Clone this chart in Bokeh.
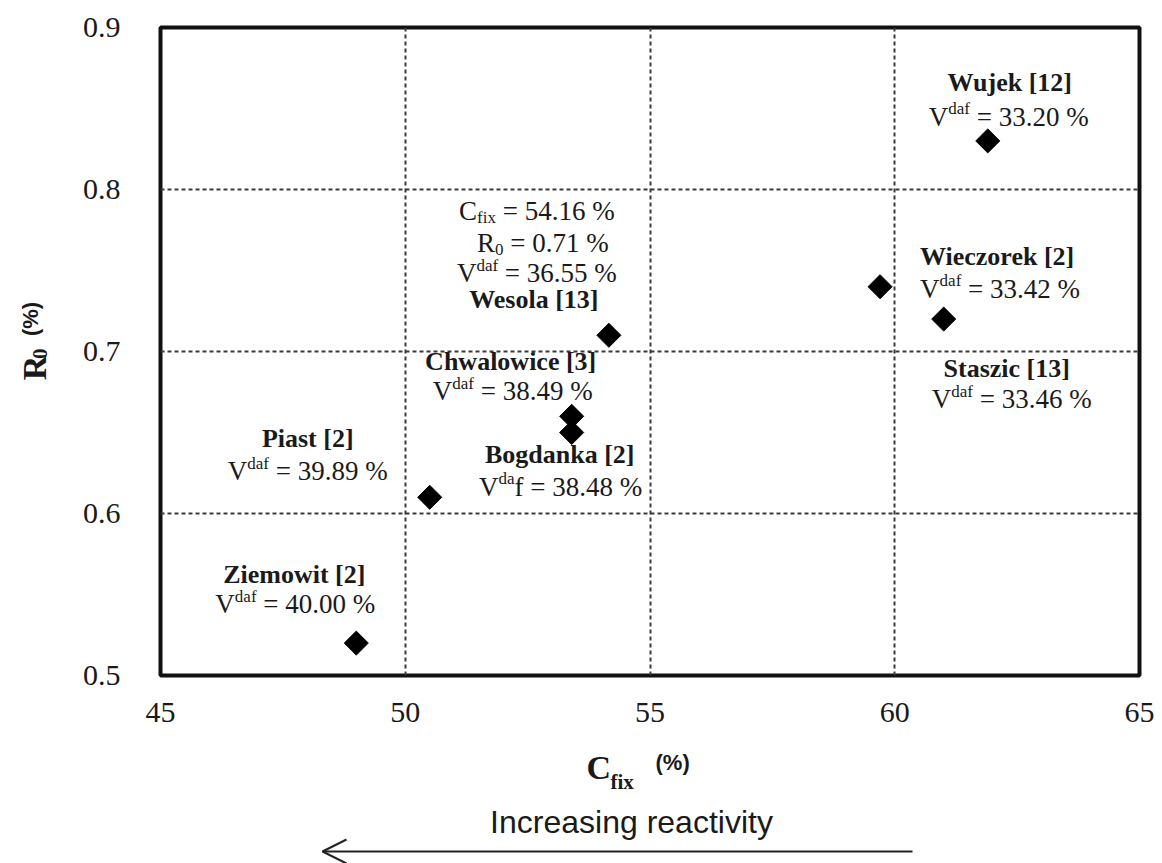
import numpy as np
from bokeh.plotting import figure
from bokeh.models import Label, Arrow, OpenHead, FixedTicker, Range1d
from bokeh.layouts import column, row
from bokeh.embed import file_html
from bokeh.resources import INLINE

# ---------------- data ----------------
mines = ["Ziemowit", "Piast", "Bogdanka", "Chwalowice", "Wesola", "Wieczorek", "Staszic", "Wujek"]
refs = ["2", "2", "2", "3", "13", "2", "13", "12"]
cfix = [49.0, 50.5, 53.4, 53.4, 54.16, 59.7, 61.0, 61.9]
r0 = [0.52, 0.61, 0.65, 0.66, 0.71, 0.74, 0.72, 0.83]
vdaf = ["40.00", "39.89", "38.48", "38.49", "36.55", "33.42", "33.46", "33.20"]
x_ticks = [45, 50, 55, 60, 65]
y_ticks = [0.5, 0.6, 0.7, 0.8, 0.9]

# ---------------- layout / style ----------------
SERIF = "Liberation Serif"
SANS = "Liberation Sans"
INK = "#1a1a1a"
MAIN = 27
SUP = 17
NB = "\u00a0"
BL = 9           # baseline correction (px) for labels

TIMES_R = {" ": 250, NB: 250, "%": 833, ".": 250, "=": 564, "V": 722, "d": 500, "a": 444,
           "f": 333, "C": 667, "R": 667, "i": 278, "x": 500}
for _c in "0123456789":
    TIMES_R[_c] = 500


def tw(s, size):
    return sum(TIMES_R.get(c, 500) for c in s) * size / 1000.0


LEFT_W = 60
MAIN_H = 735
TOTAL_W = 1162
TOTAL_H = 863

p = figure(frame_width=979, frame_height=648,
           x_range=Range1d(x_ticks[0], x_ticks[-1]), y_range=Range1d(y_ticks[0], y_ticks[-1]),
           output_backend="svg", toolbar_location=None,
           min_border_left=160 - LEFT_W, min_border_right=TOTAL_W - 1139,
           min_border_top=27, min_border_bottom=MAIN_H - 675,
           background_fill_color="white", border_fill_color="white")

p.outline_line_color = "#111111"
p.outline_line_width = 4

p.xaxis.ticker = FixedTicker(ticks=x_ticks)
p.yaxis.ticker = FixedTicker(ticks=y_ticks)
for ax in (p.xaxis, p.yaxis):
    ax.axis_line_color = None
    ax.major_tick_line_color = None
    ax.minor_tick_line_color = None
    ax.major_tick_in = 0
    ax.major_tick_out = 0
    ax.major_label_text_font = SERIF
    ax.major_label_text_font_size = "30px"
    ax.major_label_text_color = INK
p.yaxis.major_label_standoff = 40
p.xaxis.major_label_standoff = 27

for g in (p.xgrid, p.ygrid):
    g.grid_line_color = "#3a3a3a"
    g.grid_line_width = 2
    g.grid_line_dash = "4 3"
p.xgrid.ticker = FixedTicker(ticks=x_ticks[1:-1])
p.ygrid.ticker = FixedTicker(ticks=y_ticks[1:-1])

p.scatter(cfix, r0, marker="square", size=17, angle=np.pi / 4,
          fill_color="black", line_color="black")


def add_line(x, y, dx, dy, parts):
    """parts: list of (text, kind); dx/dy: pixel offset of line centre/baseline from marker."""
    sizes = {"r": MAIN, "sup": SUP, "sub": SUP}
    total = sum(tw(t, sizes[k]) for t, k in parts)
    cur = dx - total / 2.0
    for t, k in parts:
        raise_px = {"r": 0, "sup": 8, "sub": -6}[k]
        p.add_layout(Label(x=x, y=y, x_offset=cur, y_offset=-dy + raise_px + BL, text=t,
                           text_font=SERIF, text_font_size=f"{sizes[k]}px",
                           text_align="left", text_baseline="alphabetic",
                           text_color=INK))
        cur += tw(t, sizes[k])


def add_name(x, y, dx, dy, text):
    p.add_layout(Label(x=x, y=y, x_offset=dx, y_offset=-dy + BL, text=text,
                       text_font=SERIF, text_font_size="26px", text_font_style="bold",
                       text_align="center", text_baseline="alphabetic", text_color=INK))


# per-mine label placement (pixel offsets from the marker: name line, Vdaf line)
place = {
    "Ziemowit": [(-62, -60), (-61, -30)],
    "Piast": [(-122, -50), (-122, -17)],
    "Bogdanka": [(-12, 31), (-11, 63)],
    "Chwalowice": [(-61, -46), (-59, -16)],
    "Wesola": [(-75, -27), (-72, -53)],
    "Wieczorek": [(117, -21), (120, 11)],
    "Staszic": [(63, 58), (68, 89)],
    "Wujek": [(22, -49), (21, -15)],
}

EQ = NB + "=" + NB
for i, m in enumerate(mines):
    x, y = cfix[i], r0[i]
    (ndx, ndy), (vdx, vdy) = place[m]
    add_name(x, y, ndx, ndy, f"{m} [{refs[i]}]")
    if m == "Bogdanka":
        parts = [("V", "r"), ("da", "sup"), (f"f{EQ}{vdaf[i]}{NB}%", "r")]
    else:
        parts = [("V", "r"), ("daf", "sup"), (f"{EQ}{vdaf[i]}{NB}%", "r")]
    add_line(x, y, vdx, vdy, parts)
    if m == "Wesola":
        add_line(x, y, -72, -115, [("C", "r"), ("fix", "sub"), (f"{EQ}{cfix[i]:.2f}{NB}%", "r")])
        add_line(x, y, -66, -83, [("R", "r"), ("0", "sub"), (f"{EQ}{r0[i]:.2f}{NB}%", "r")])


# ---------------- helper panels (coordinates = page pixels) ----------------
def blank(w, h, x0, x1, y0, y1):
    f = figure(width=w, height=h, x_range=Range1d(x0, x1), y_range=Range1d(y1, y0),
               output_backend="svg", toolbar_location=None,
               x_axis_type=None, y_axis_type=None, min_border=0,
               background_fill_color="white", border_fill_color="white")
    f.outline_line_color = None
    f.xgrid.visible = False
    f.ygrid.visible = False
    return f


left = blank(LEFT_W, MAIN_H, 0, LEFT_W, 0, MAIN_H)
rot = dict(angle=np.pi / 2, text_align="left", text_baseline="alphabetic", text_color=INK)
left.add_layout(Label(x=34, y=400, text="R", text_font=SERIF, text_font_size="34px",
                      text_font_style="bold", **rot))
left.add_layout(Label(x=39, y=376, text="0", text_font=SERIF, text_font_size="21px",
                      text_font_style="bold", **rot))
left.add_layout(Label(x=30, y=350, text="(%)", text_font=SANS, text_font_size="22px",
                      text_font_style="bold", **rot))

bot = blank(TOTAL_W, TOTAL_H - MAIN_H, 0, TOTAL_W, MAIN_H, TOTAL_H)
common = dict(text_align="left", text_baseline="alphabetic", text_color=INK)
bot.add_layout(Label(x=586, y=779 - 12, text="C", text_font=SERIF, text_font_size="34px",
                     text_font_style="bold", **common))
bot.add_layout(Label(x=610, y=789 - 8, text="fix", text_font=SERIF, text_font_size="21px",
                     text_font_style="bold", **common))
bot.add_layout(Label(x=655, y=770 - 8, text="(%)", text_font=SANS, text_font_size="22px",
                     text_font_style="bold", **common))
bot.add_layout(Label(x=631, y=833 - 12, text="Increasing reactivity", text_font=SANS,
                     text_font_size="32px", text_color=INK, text_align="center",
                     text_baseline="alphabetic"))
bot.add_layout(Arrow(x_start=912, y_start=851, x_end=322, y_end=851,
                     line_color="#222222", line_width=2,
                     end=OpenHead(size=24, line_color="#222222", line_width=2),
                     start=None))

layout = column(row(left, p), bot)
open("out.html", "w").write(file_html(layout, INLINE))
